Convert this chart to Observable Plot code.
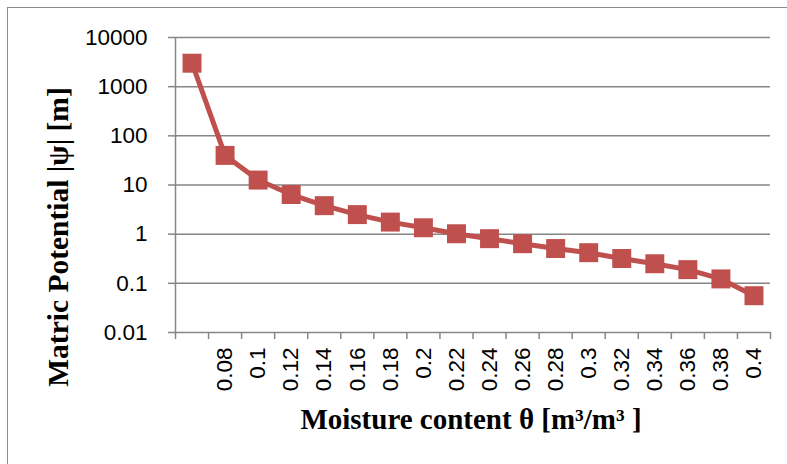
<!DOCTYPE html>
<html><head><meta charset="utf-8">
<script src="https://cdn.jsdelivr.net/npm/d3@7"></script>
<script src="https://cdn.jsdelivr.net/npm/@observablehq/plot@0.6"></script>
<style>
body{margin:0;background:#fff;}
#wrap{position:relative;width:787px;height:464px;overflow:hidden;background:#fff;}
#wrap svg{display:block;}
#border{position:absolute;left:7px;top:7px;width:820px;height:500px;border:1.5px solid #8c8c8c;box-sizing:border-box;pointer-events:none;}
</style></head>
<body><div id="wrap"><div id="border"></div></div>
<script>
const categories = ["", "0.08", "0.1", "0.12", "0.14", "0.16", "0.18", "0.2", "0.22", "0.24", "0.26", "0.28", "0.3", "0.32", "0.34", "0.36", "0.38", "0.4"];
const psi = [3000, 40, 12.6, 6.4, 3.8, 2.5, 1.76, 1.35, 1.02, 0.81, 0.64, 0.51, 0.42, 0.32, 0.25, 0.19, 0.123, 0.056];
const yTicks = [0.01, 0.1, 1, 10, 100, 1000, 10000];
const yTickLabels = ["0.01", "0.1", "1", "10", "100", "1000", "10000"];
const xTitle = "Moisture content θ [m³/m³ ]";
const yTitle = "Matric Potential |ψ| [m]";

const data = categories.map((c, i) => ({i, c, v: psi[i]}));
const idx = categories.map((_, i) => i);
const bounds = [...idx.map(i => i - 0.5), categories.length - 0.5];
const gray = "#868686";
const red = "#C0504D";
const titleFont = "'Liberation Serif', 'Times New Roman', serif";
const tickFont = "'Liberation Sans', Arial, sans-serif";

const chart = Plot.plot({
  width: 787, height: 464,
  marginLeft: 175, marginRight: 17, marginTop: 37, marginBottom: 132,
  style: {fontFamily: tickFont, fontSize: "22.5px", color: "#000", background: "transparent"},
  x: {type: "linear", domain: [-0.5, categories.length - 0.5]},
  y: {type: "log", domain: [0.01, 10000]},
  marks: [
    Plot.gridY(yTicks.slice(1), {stroke: gray, strokeOpacity: 1, strokeWidth: 1.5}),
    Plot.axisY(yTicks, {tickSize: 7, tickPadding: 21, stroke: gray, strokeWidth: 1.5, fill: "#000",
      fontSize: 22.5, fontFamily: tickFont,
      tickFormat: d => yTickLabels[yTicks.indexOf(d)], label: null}),
    Plot.axisX(bounds, {tickSize: 7, stroke: gray, strokeWidth: 1.5, tickFormat: () => "", label: null}),
    Plot.axisX(idx, {tickSize: 0, tickPadding: 15, tickRotate: -90, fill: "#000",
      fontSize: 22.5, fontFamily: tickFont,
      tickFormat: i => categories[i], label: null}),
    Plot.ruleY([0.01], {stroke: gray, strokeWidth: 1.5}),
    Plot.ruleX([-0.5], {stroke: gray, strokeWidth: 1.5}),
    Plot.line(data, {x: "i", y: "v", stroke: red, strokeWidth: 5, strokeLinejoin: "round"}),
    Plot.dot(data, {x: "i", y: "v", symbol: "square", r: 10.7, fill: red, stroke: "none"}),
    Plot.text([yTitle], {text: d => d, frameAnchor: "left", rotate: -90, dx: -117, dy: 52,
      fontSize: 29.5, fontWeight: "bold", fontFamily: titleFont, textAnchor: "middle", lineAnchor: "middle", fill: "#000"}),
    Plot.text([xTitle], {text: d => d, frameAnchor: "bottom", dx: -2, dy: 87,
      fontSize: 29, fontWeight: "bold", fontFamily: titleFont, textAnchor: "middle", lineAnchor: "middle", fill: "#000"})
  ]
});
d3.select(chart).selectAll('g[aria-label$="tick label"]').attr("font-size", "22.5px").style("font-size", "22.5px")
  .selectAll("text").style("font-size", "22.5px");
const wrap = document.getElementById("wrap");
wrap.insertBefore(chart, document.getElementById("border"));
</script>
</body></html>
